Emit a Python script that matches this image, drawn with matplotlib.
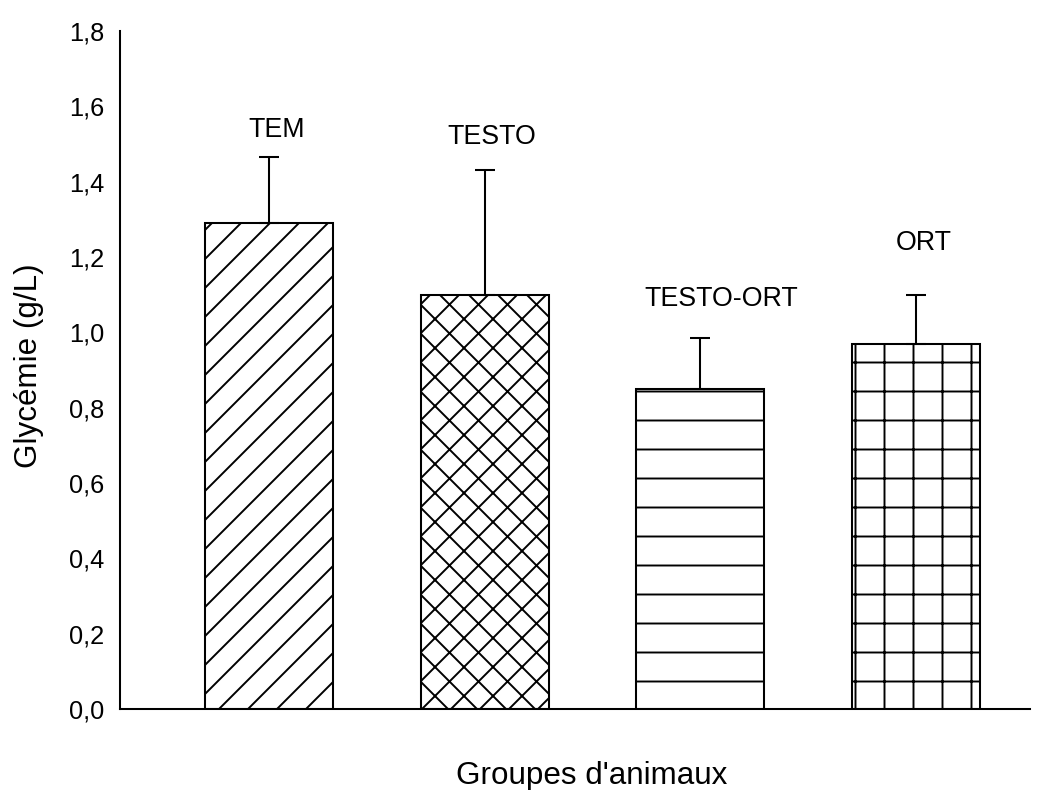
import matplotlib
matplotlib.use("Agg")
import matplotlib.pyplot as plt

groups = ["TEM", "TESTO", "TESTO-ORT", "ORT"]
means = [1.29, 1.10, 0.85, 0.97]
errors = [0.175, 0.33, 0.135, 0.13]
hatches = ["//", "xx", "-", "+"]
label_y = [1.537, 1.518, 1.088, 1.237]
yticks = [0.0, 0.2, 0.4, 0.6, 0.8, 1.0, 1.2, 1.4, 1.6, 1.8]
ytick_labels = ["0,0", "0,2", "0,4", "0,6", "0,8", "1,0", "1,2", "1,4", "1,6", "1,8"]

DPI = 174
plt.rcParams["font.family"] = ["Liberation Sans", "DejaVu Sans"]
plt.rcParams["hatch.linewidth"] = 0.8
plt.rcParams["hatch.color"] = "black"

fig = plt.figure(figsize=(1054 / DPI, 790 / DPI), dpi=DPI)
ax = fig.add_axes([120 / 1054, 1 - 709 / 790, 910 / 1054, 678 / 790])

x = list(range(len(groups)))
ax.bar(x, means, width=0.594, color="white", edgecolor="black",
       linewidth=0.85, hatch=hatches, zorder=2)
ax.errorbar(x, means, yerr=[[0] * len(errors), errors], fmt="none",
            ecolor="black", elinewidth=0.85, capsize=4.1, capthick=0.85, zorder=3)

for xi, g, ly in zip(x, groups, label_y):
    off = 0.1 if g == "TESTO-ORT" else 0.035
    ax.text(xi + off, ly, g, ha="center", va="center", fontsize=11.1)

ax.set_xlim(-0.691, 3.53)
ax.set_ylim(0, 1.8)
ax.set_xticks([])
ax.set_yticks(yticks)
ax.set_yticklabels(ytick_labels)
ax.tick_params(axis="y", length=0, pad=6.6, labelsize=10.5)
for s in ["top", "right"]:
    ax.spines[s].set_visible(False)
for s in ["left", "bottom"]:
    ax.spines[s].set_linewidth(0.85)

fig.text(592 / 1054, 1 - 776 / 790, "Groupes d'animaux", ha="center", va="center", fontsize=13)
fig.text(29 / 1054, 1 - 366 / 790, "Glycémie (g/L)", ha="center", va="center",
         rotation=90, fontsize=13)

fig.savefig("out.png", dpi=DPI, facecolor="white")
